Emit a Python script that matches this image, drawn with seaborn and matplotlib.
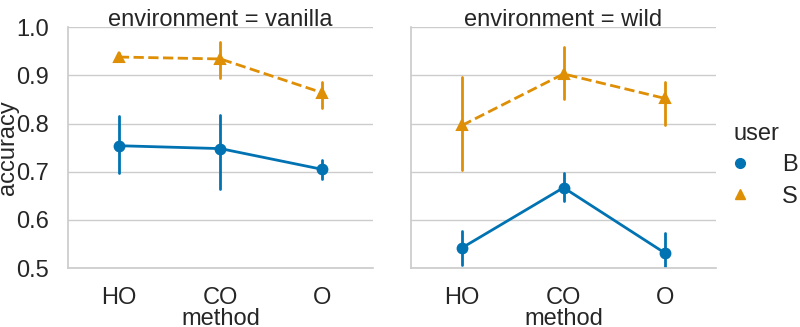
import numpy as np
import pandas as pd
import seaborn as sns
import matplotlib.pyplot as plt
from matplotlib.lines import Line2D

methods = ["HO", "CO", "O"]
environments = ["vanilla", "wild"]
users = ["B", "S"]
yticks = [0.5, 0.6, 0.7, 0.8, 0.9, 1.0]

# point estimates and interval bounds
vanilla_B_mean = [0.754, 0.748, 0.705]
vanilla_B_low = [0.697, 0.665, 0.685]
vanilla_B_high = [0.816, 0.818, 0.724]
vanilla_S_mean = [0.938, 0.934, 0.864]
vanilla_S_low = [0.930, 0.895, 0.832]
vanilla_S_high = [0.946, 0.970, 0.886]

wild_B_mean = [0.542, 0.667, 0.531]
wild_B_low = [0.506, 0.639, 0.500]
wild_B_high = [0.577, 0.697, 0.573]
wild_S_mean = [0.796, 0.903, 0.852]
wild_S_low = [0.703, 0.850, 0.798]
wild_S_high = [0.897, 0.959, 0.887]

series = {
    ("vanilla", "B"): (vanilla_B_mean, vanilla_B_low, vanilla_B_high),
    ("vanilla", "S"): (vanilla_S_mean, vanilla_S_low, vanilla_S_high),
    ("wild", "B"): (wild_B_mean, wild_B_low, wild_B_high),
    ("wild", "S"): (wild_S_mean, wild_S_low, wild_S_high),
}

rows = []
for (env, user), (mean, low, high) in series.items():
    for m, mu, lo, hi in zip(methods, mean, low, high):
        for v in (lo, mu, hi):
            rows.append({"environment": env, "user": user, "method": m, "accuracy": v})
df = pd.DataFrame(rows)

sns.set_theme(style="whitegrid", palette="colorblind")
plt.rcParams["font.family"] = ["Liberation Sans", "DejaVu Sans"]
fs = 17
plt.rcParams.update({
    "font.size": fs, "axes.labelsize": fs, "axes.titlesize": fs,
    "xtick.labelsize": fs, "ytick.labelsize": fs,
    "legend.fontsize": fs, "legend.title_fontsize": fs,
    "text.color": "#262626", "axes.labelcolor": "#262626",
    "xtick.color": "#262626", "ytick.color": "#262626",
    "xtick.major.pad": 7.5, "ytick.major.pad": 8,
})

palette = sns.color_palette("colorblind")
markers = ["o", "^"]

g = sns.catplot(
    data=df, x="method", y="accuracy", hue="user", col="environment",
    kind="point", order=methods, hue_order=users, col_order=environments,
    estimator="median", errorbar=("pi", 100),
    markers=markers, linestyles=["-", "--"],
    markersize=7, linewidth=2.0,
    height=3.27, aspect=1.2, legend=False,
)
g.figure.set_size_inches(8, 3.27)
g.set(ylim=(0.5, 1.0), yticks=yticks)
g.set_titles("environment = {col_name}")
for ax in g.axes.flat:
    ax.set_title(ax.get_title(), pad=1)
    ax.xaxis.set_label_coords(0.5, -0.167)
g.axes.flat[0].yaxis.set_label_coords(-0.162, 0.5)
g.figure.subplots_adjust(left=0.085, right=0.895, top=0.917, bottom=0.180, wspace=0.125)

handles = [Line2D([], [], linestyle="none", marker=mk, color=palette[i], markersize=7)
           for i, mk in enumerate(markers)]
g.figure.legend(handles, users, title="user", loc="center left",
                bbox_to_anchor=(716 / 800, 0.495), frameon=False,
                borderpad=0, borderaxespad=0, handletextpad=0.8, labelspacing=0.4)
g.figure.savefig("out.png", dpi=100)
